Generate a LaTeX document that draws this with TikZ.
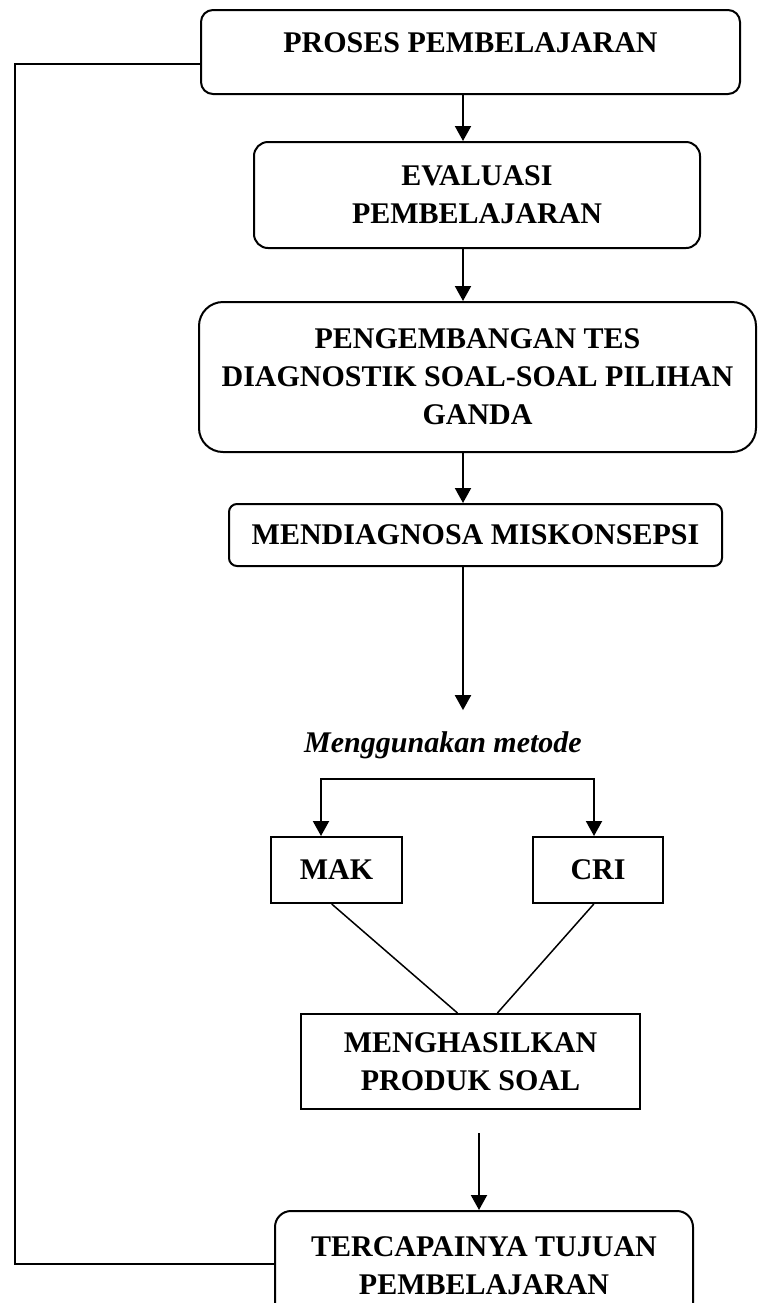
\documentclass[tikz,border=0pt]{standalone}
\usepackage{fontspec}
\setmainfont{Liberation Serif}
\usetikzlibrary{arrows.meta,positioning,shapes}

\begin{document}
\begin{tikzpicture}[x=0.5pt,y=-0.5pt]
\tikzstyle{box}=[draw=black,line width=1pt,align=center,inner sep=0pt,font=\bfseries\fontsize{15}{19}\selectfont]
\tikzstyle{rbox}=[box,rounded corners=7pt]
\tikzstyle{arrow}=[line width=1pt,->,>={Triangle[length=7.5pt,width=8pt]}]
\tikzstyle{line}=[line width=1pt]
\useasboundingbox (0,0) rectangle (757,1303);
\coordinate (ax) at (463,0);
\coordinate (ax2) at (479,0);
\coordinate (back) at (15,0);
\node [rbox,rounded corners=6pt,minimum width=269.5pt,minimum height=42pt,text height=10pt,text depth=10pt] (proses) at (470.5,52) {PROSES PEMBELAJARAN};
\node [rbox,minimum width=223pt,minimum height=53pt] (evaluasi) at (477,195) {EVALUASI\\PEMBELAJARAN};
\node [rbox,rounded corners=12pt,minimum width=278.5pt,minimum height=75pt] (tes) at (477.5,377) {PENGEMBANGAN TES\\DIAGNOSTIK SOAL-SOAL PILIHAN\\GANDA};
\node [rbox,rounded corners=4pt,minimum width=246.5pt,minimum height=31pt] (diag) at (475.5,535) {MENDIAGNOSA MISKONSEPSI};
\node [font=\bfseries\itshape\fontsize{15}{19}\selectfont,anchor=base] (metode) at (443,752) {Menggunakan metode};
\node [box,minimum width=65.5pt,minimum height=33pt] (mak) at (336.5,870) {MAK};
\node [box,minimum width=65pt,minimum height=33pt] (cri) at (598,870) {CRI};
\node [box,minimum width=169.5pt,minimum height=47.5pt] (hasil) at (470.5,1061.5) {MENGHASILKAN\\PRODUK SOAL};
\node [rbox,rounded corners=8pt,minimum width=209pt,minimum height=55pt] (tujuan) at (484,1266) {TERCAPAINYA TUJUAN\\PEMBELAJARAN};
% alur utama
\draw [arrow] (proses.south -| ax) -- (evaluasi.north -| ax);
\draw [arrow] (evaluasi.south -| ax) -- (tes.north -| ax);
\draw [arrow] (tes.south -| ax) -- (diag.north -| ax);
\draw [arrow,shorten >=7pt] (diag.south -| ax) -- (metode.north -| ax);
% cabang metode
\coordinate (bl) at (321,779);
\coordinate (br) at (594,779);
\draw [arrow,<->] (mak.north -| bl) |- (br) -- (cri.north -| br);
\draw [line width=0.75pt] (mak.262) -- (hasil.105);
\draw [line width=0.75pt] (cri.263) -- (hasil.61);
\draw [arrow,shorten <=11.5pt] (hasil.south -| ax2) -- (tujuan.north -| ax2);
% umpan balik
\coordinate (fb1) at ([yshift=-6pt]proses.west);
\coordinate (fb2) at ([yshift=1pt]tujuan.west);
\draw [line] (fb1) -- (fb1 -| back) |- (fb2);
\end{tikzpicture}
\end{document}
